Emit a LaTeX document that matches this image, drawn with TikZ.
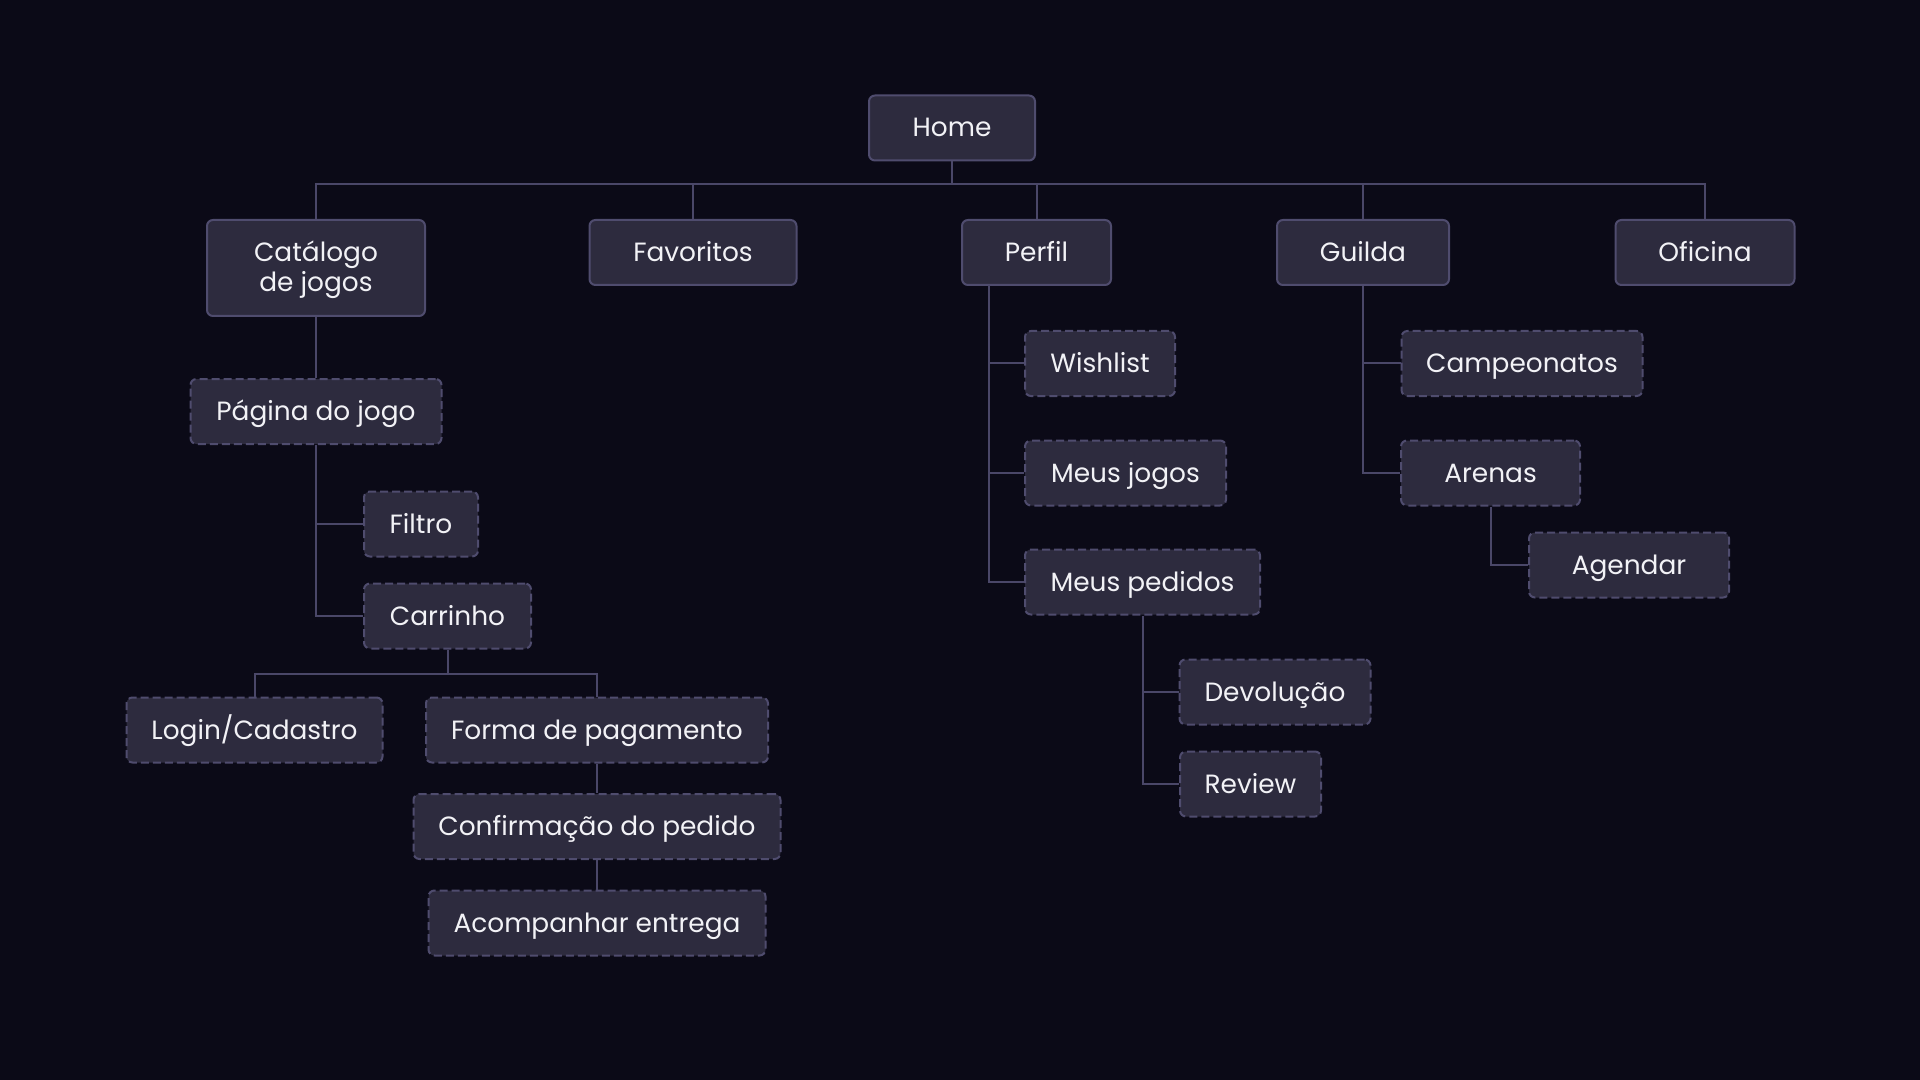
\documentclass[tikz,border=0pt]{standalone}
\usepackage{fontspec}
\setmainfont{Poppins}
\usepackage{tikz}

\definecolor{bgcol}{HTML}{0B0A17}
\definecolor{boxfill}{HTML}{2D2B3E}
\definecolor{boxline}{HTML}{4F4C6E}
\definecolor{linkcol}{HTML}{4A4768}
\definecolor{txtcol}{HTML}{F2F2F6}

\begin{document}
\begin{tikzpicture}[x=0.5pt,y=-0.5pt,
        page/.style={draw=boxline, fill=boxfill, line width=1pt, rounded corners=3pt,
            text=txtcol, font=\fontsize{13.2}{16.1}\selectfont, align=center,
            inner sep=0pt, minimum height=32.5pt, text height=10pt, text depth=1pt},
        subpage/.style={page, dash pattern=on 4pt off 2pt},
        link/.style={draw=linkcol, line width=1pt}]
        % Draw the background
        \fill[bgcol] (0,0) rectangle (1920,1080);

        % Top level pages
        \node[page, minimum width=83pt] (home) at (952,128) {Home};
        \node[page, minimum width=109pt, minimum height=48pt, font=\fontsize{13.2}{15}\selectfont, text height=25pt] (catalogo) at (316,268) {Catálogo\\de jogos};
        \node[page, minimum width=103.5pt] (favoritos) at (693,252.5) {Favoritos};
        \node[page, minimum width=74.5pt] (perfil) at (1036.5,252.5) {Perfil};
        \node[page, minimum width=86pt] (guilda) at (1363,252.5) {Guilda};
        \node[page, minimum width=89.5pt] (oficina) at (1705,252.5) {Oficina};

        % Catalogo branch
        \node[subpage, minimum width=125.5pt] (pagina) at (316,411.5) {Página do jogo};
        \node[subpage, minimum width=57pt] (filtro) at (421,524) {Filtro};
        \node[subpage, minimum width=83.5pt] (carrinho) at (447.5,616) {Carrinho};
        \node[subpage, minimum width=128pt] (login) at (254.5,730) {Login/Cadastro};
        \node[subpage, minimum width=171pt] (pagamento) at (597,730) {Forma de pagamento};
        \node[subpage, minimum width=183.5pt] (confirmacao) at (597,826.5) {Confirmação do pedido};
        \node[subpage, minimum width=168.5pt] (entrega) at (597,923) {Acompanhar entrega};

        % Perfil branch
        \node[subpage, minimum width=75pt] (wishlist) at (1100,363.5) {Wishlist};
        \node[subpage, minimum width=100.5pt] (jogos) at (1125.5,473) {Meus jogos};
        \node[subpage, minimum width=117.5pt] (pedidos) at (1142.5,582) {Meus pedidos};
        \node[subpage, minimum width=95.5pt] (devolucao) at (1275,692) {Devolução};
        \node[subpage, minimum width=70.5pt] (review) at (1250.5,784) {Review};

        % Guilda branch
        \node[subpage, minimum width=120.5pt] (campeonatos) at (1522,363.5) {Campeonatos};
        \node[subpage, minimum width=89.5pt] (arenas) at (1490.5,473) {Arenas};
        \node[subpage, minimum width=100pt] (agendar) at (1629,565) {Agendar};

        % Draw the links from Home
        \coordinate (homebus) at (952,184);
        \draw[link] (home.south) -- (homebus);
        \foreach \n in {catalogo, favoritos, perfil, guilda, oficina}
            \draw[link] (\n.north) |- (homebus);

        % Draw the links below Catalogo
        \draw[link] (catalogo.south) -- (pagina.north);
        \foreach \n in {filtro, carrinho}
            \draw[link] (\n.west) -| (pagina.south);
        \coordinate (cartbus) at (447.5,674);
        \draw[link] (carrinho.south) -- (cartbus);
        \foreach \n in {login, pagamento}
            \draw[link] (\n.north) |- (cartbus);
        \draw[link] (pagamento.south) -- (confirmacao.north);
        \draw[link] (confirmacao.south) -- (entrega.north);

        % Draw the links below Perfil
        \coordinate (perfiltrunk) at (989,285);
        \foreach \n in {wishlist, jogos, pedidos}
            \draw[link] (\n.west) -| (perfiltrunk);
        \foreach \n in {devolucao, review}
            \draw[link] (\n.west) -| (pedidos.south);

        % Draw the links below Guilda
        \foreach \n in {campeonatos, arenas}
            \draw[link] (\n.west) -| (guilda.south);
        \draw[link] (agendar.west) -| (arenas.south);
\end{tikzpicture}
\end{document}
